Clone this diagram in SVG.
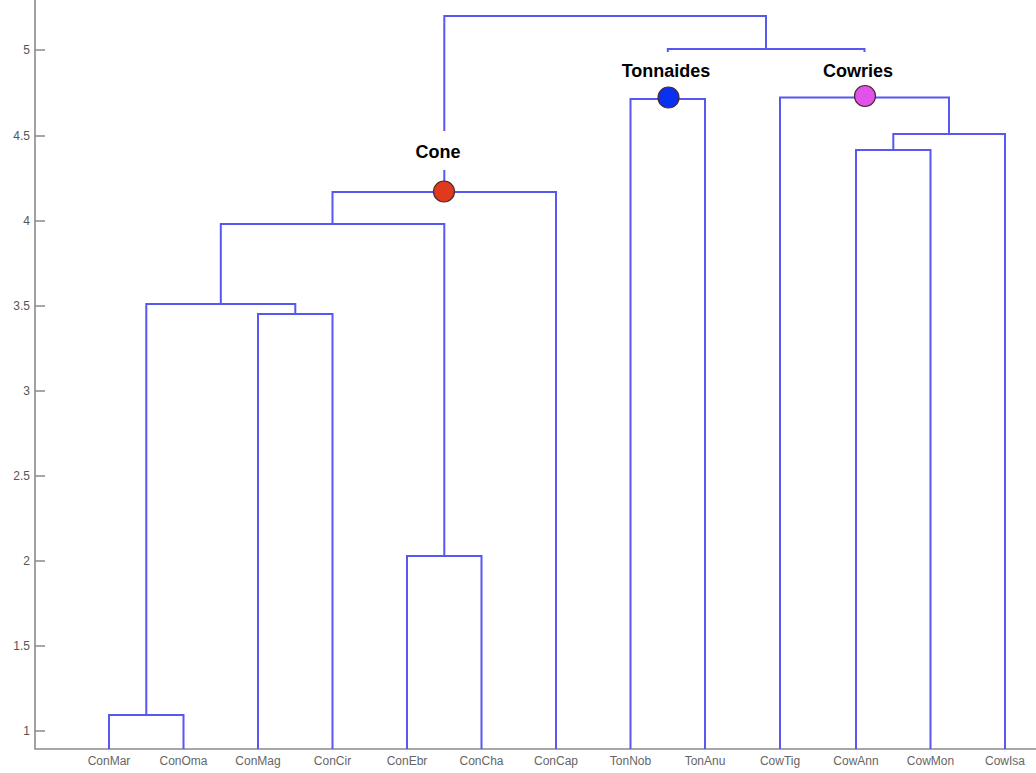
<svg xmlns="http://www.w3.org/2000/svg" width="1036" height="773" viewBox="0 0 1036 773">
<style>
.link{fill:none;stroke:#5757f2;stroke-width:2;stroke-linejoin:miter}
.axis{fill:none;stroke:#8a8a8a;stroke-width:1.6}
.tick{font-family:"Liberation Sans",Arial,sans-serif;font-size:12px;fill:#555;text-anchor:end}
.leaf{font-family:"Liberation Sans",Arial,sans-serif;font-size:12px;fill:#666;text-anchor:middle}
.lbl{font-family:"Liberation Sans",Arial,sans-serif;font-size:18px;font-weight:bold;fill:#000;text-anchor:middle}
.box{fill:#fff}
.dot{stroke:#4a2a2a;stroke-width:1.2}
</style>
<rect width="1036" height="773" fill="#fff"/>
<g id="axes">
<path class="axis" d="M35,0 V749 H1036"/>
<path class="axis" d="M35,50 H45 M35,136 H45 M35,221 H45 M35,306 H45 M35,391 H45 M35,476 H45 M35,561 H45 M35,646 H45 M35,731 H45"/>
<text class="tick" x="30" y="54">5</text>
<text class="tick" x="30" y="140">4.5</text>
<text class="tick" x="30" y="225">4</text>
<text class="tick" x="30" y="310">3.5</text>
<text class="tick" x="30" y="395">3</text>
<text class="tick" x="30" y="480">2.5</text>
<text class="tick" x="30" y="565">2</text>
<text class="tick" x="30" y="650">1.5</text>
<text class="tick" x="30" y="735">1</text>
</g>
<g id="connectors">
<path class="link" d="M109,749 V715 H183.5 V749"/>
<path class="link" d="M258,749 V314 H332.5 V749"/>
<path class="link" d="M146.3,715 V304 H295.3 V314"/>
<path class="link" d="M407,749 V556 H481.5 V749"/>
<path class="link" d="M220.8,304 V224 H444.3 V556"/>
<path class="link" d="M332.5,224 V192 H556 V749"/>
<path class="link" d="M630.5,749 V99 H705 V749"/>
<path class="link" d="M856,749 V150 H930.5 V749"/>
<path class="link" d="M893.3,150 V134 H1005 V749"/>
<path class="link" d="M780,749 V97.5 H949 V134"/>
<path class="link" d="M667.8,99 V49 H864.5 V97.5"/>
<path class="link" d="M444.3,192 V16 H766 V49"/>
</g>
<g id="leaves">
<text class="leaf" x="109" y="765">ConMar</text>
<text class="leaf" x="183.5" y="765">ConOma</text>
<text class="leaf" x="258" y="765">ConMag</text>
<text class="leaf" x="332.5" y="765">ConCir</text>
<text class="leaf" x="407" y="765">ConEbr</text>
<text class="leaf" x="481.5" y="765">ConCha</text>
<text class="leaf" x="556" y="765">ConCap</text>
<text class="leaf" x="630.5" y="765">TonNob</text>
<text class="leaf" x="705" y="765">TonAnu</text>
<text class="leaf" x="780" y="765">CowTig</text>
<text class="leaf" x="856" y="765">CowAnn</text>
<text class="leaf" x="930.5" y="765">CowMon</text>
<text class="leaf" x="1005" y="765">CowIsa</text>
</g>
<g id="cone">
<rect class="box" x="400" y="131" width="90" height="39"/>
<text class="lbl" x="438" y="158">Cone</text>
<circle class="dot" cx="444" cy="191.5" r="10.5" fill="#e03a1e"/>
</g>
<g id="tonnaides">
<rect class="box" x="612" y="52" width="110" height="36"/>
<text class="lbl" x="666" y="77">Tonnaides</text>
<circle class="dot" cx="668.5" cy="97.5" r="10.5" fill="#0a30f0"/>
</g>
<g id="cowries">
<rect class="box" x="812" y="52" width="95" height="36"/>
<text class="lbl" x="858" y="77">Cowries</text>
<circle class="dot" cx="865" cy="96" r="10.5" fill="#e052ea"/>
</g>
</svg>
